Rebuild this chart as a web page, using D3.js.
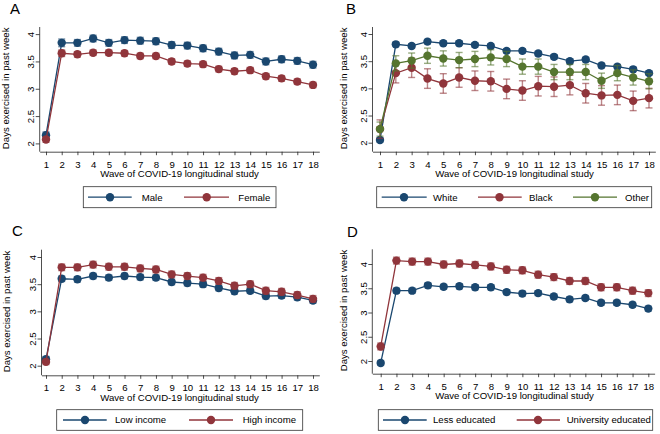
<!DOCTYPE html>
<html><head><meta charset="utf-8">
<script src="https://cdn.jsdelivr.net/npm/d3@7"></script>
<style>
body{margin:0;background:#fff}
svg{display:block}
text{font-family:"Liberation Sans",Arial,Helvetica,sans-serif;fill:#000}
</style>
</head><body>
<svg id="chart" width="660" height="434"></svg>
<script>
// ---------- data ----------
const waves = [1,2,3,4,5,6,7,8,9,10,11,12,13,14,15,16,17,18];
const yTicks = [2,2.5,3,3.5,4];
const yTickLabels = ["2","2.5","3","3.5","4"];
const xTitle = "Wave of COVID-19 longitudinal study";
const yTitle = "Days exercised in past week";

// Panel A: sex
const maleMean   = [2.15,3.84,3.84,3.92,3.84,3.89,3.88,3.87,3.80,3.79,3.74,3.68,3.61,3.62,3.50,3.54,3.51,3.44];
const maleCI     = [0.06,0.07,0.06,0.06,0.06,0.06,0.06,0.06,0.06,0.06,0.06,0.06,0.06,0.06,0.06,0.06,0.06,0.06];
const femaleMean = [2.07,3.65,3.63,3.66,3.66,3.65,3.60,3.60,3.50,3.46,3.45,3.36,3.32,3.34,3.23,3.19,3.13,3.07];
const femaleCI   = [0.05,0.06,0.05,0.05,0.05,0.05,0.05,0.05,0.05,0.05,0.05,0.05,0.05,0.05,0.05,0.05,0.05,0.05];

// Panel B: race
const whiteMean = [2.05,3.81,3.78,3.86,3.83,3.83,3.80,3.78,3.69,3.69,3.64,3.58,3.50,3.53,3.42,3.40,3.35,3.28];
const whiteCI   = [0.04,0.04,0.04,0.04,0.04,0.04,0.04,0.04,0.04,0.04,0.04,0.04,0.04,0.04,0.04,0.04,0.04,0.04];
const blackMean = [2.25,3.28,3.38,3.18,3.09,3.20,3.14,3.13,2.99,2.96,3.04,3.03,3.06,2.91,2.87,2.88,2.77,2.82];
const blackCI   = [0.17,0.18,0.18,0.18,0.18,0.18,0.18,0.18,0.18,0.18,0.18,0.18,0.18,0.18,0.18,0.18,0.18,0.18];
const otherMean = [2.25,3.46,3.51,3.60,3.55,3.52,3.54,3.57,3.54,3.40,3.40,3.30,3.30,3.30,3.14,3.28,3.20,3.13];
const otherCI   = [0.13,0.14,0.14,0.14,0.14,0.14,0.14,0.14,0.14,0.14,0.14,0.14,0.14,0.14,0.14,0.14,0.14,0.14];

// Panel C: income
const lowIncMean  = [2.12,3.60,3.59,3.65,3.62,3.65,3.63,3.62,3.54,3.52,3.50,3.43,3.37,3.38,3.28,3.29,3.26,3.20];
const lowIncCI    = [0.05,0.05,0.05,0.05,0.05,0.05,0.05,0.05,0.05,0.05,0.05,0.05,0.05,0.05,0.05,0.05,0.05,0.05];
const highIncMean = [2.07,3.81,3.81,3.86,3.82,3.82,3.79,3.77,3.68,3.65,3.62,3.56,3.47,3.50,3.38,3.36,3.30,3.23];
const highIncCI   = [0.05,0.06,0.06,0.06,0.06,0.06,0.06,0.06,0.06,0.06,0.06,0.06,0.06,0.06,0.06,0.06,0.06,0.06];

// Panel D: education
const lessEduMean = [1.96,3.45,3.45,3.56,3.53,3.54,3.52,3.52,3.42,3.39,3.40,3.33,3.27,3.30,3.20,3.20,3.16,3.08];
const lessEduCI   = [0.05,0.05,0.05,0.05,0.05,0.05,0.05,0.05,0.05,0.05,0.05,0.05,0.05,0.05,0.05,0.05,0.05,0.05];
const uniEduMean  = [2.30,4.07,4.05,4.05,3.99,4.01,3.98,3.95,3.88,3.87,3.78,3.73,3.65,3.65,3.52,3.52,3.45,3.40];
const uniEduCI    = [0.07,0.07,0.07,0.07,0.07,0.07,0.07,0.07,0.07,0.07,0.07,0.07,0.07,0.07,0.07,0.07,0.07,0.07];

// ---------- style ----------
const NAVY = "#1a476f", MAROON = "#90353b", GREEN = "#55752f";

const panels = [
  { label:"A", lab:[10,14],
    g:{ax:39.7, x1:46, x18:313, y2:143.4, y4:34.1, top:27, bot:151.7, ytx:8.5},
    series:[{name:"Male",mean:maleMean,ci:maleCI,color:NAVY},
            {name:"Female",mean:femaleMean,ci:femaleCI,color:MAROON}],
    legend:{box:[83.3,186.7,276,207.7], items:[[88,131.7,110,141.7],[184,229,206.7,238.3]]} },
  { label:"B", lab:[346,14],
    g:{ax:372.5, x1:380, x18:649, y2:142.7, y4:34, top:27, bot:151.7, ytx:346.7},
    series:[{name:"White",mean:whiteMean,ci:whiteCI,color:NAVY},
            {name:"Black",mean:blackMean,ci:blackCI,color:MAROON},
            {name:"Other",mean:otherMean,ci:otherCI,color:GREEN}],
    legend:{box:[376.7,186.7,651.7,207.7], items:[[381.7,426.7,404,433],[478,521.7,499.5,529],[573,617,595,625]]} },
  { label:"C", lab:[12,236],
    g:{ax:41.5, x1:46, x18:313, y2:365.7, y4:257, top:249.7, bot:375.3, ytx:10},
    series:[{name:"Low income",mean:lowIncMean,ci:lowIncCI,color:NAVY},
            {name:"High income",mean:highIncMean,ci:highIncCI,color:MAROON}],
    legend:{box:[56.7,409.7,302.7,430.3], items:[[63,106.7,85,115],[189,233,211,242.7]]} },
  { label:"D", lab:[347,237],
    g:{ax:372.3, x1:380.7, x18:648.3, y2:361, y4:264, top:249.3, bot:373.7, ytx:346.5},
    series:[{name:"Less educated",mean:lessEduMean,ci:lessEduCI,color:NAVY},
            {name:"University educated",mean:uniEduMean,ci:uniEduCI,color:MAROON}],
    legend:{box:[378.3,409.7,652.7,430.3], items:[[383,426.7,405,433],[516.7,560,538,566.7]]} }
];

const svg = d3.select("#chart");
const FS = 9.6;

panels.forEach(p => {
  const G = p.g;
  const g = svg.append("g");
  const per = (G.x18 - G.x1) / 17;
  const xlo = 1 - (G.x1 - G.ax) / per, xhi = 18.4;
  const x = d3.scaleLinear().domain([xlo, xhi]).range([G.ax, G.x18 + 0.4*per]);
  const y = d3.scaleLinear().domain([2, 4]).range([G.y2, G.y4]);

  // panel letter
  g.append("text").attr("x", p.lab[0]).attr("y", p.lab[1])
    .style("font-size","15px").text(p.label);

  // y axis
  const yAx = g.append("g").attr("transform", `translate(${G.ax},0)`)
    .call(d3.axisLeft(y).tickValues(yTicks).tickFormat((d,i)=>yTickLabels[i]).tickSize(4).tickSizeOuter(0));
  yAx.select(".domain").remove();
  yAx.selectAll(".tick line").attr("stroke","#222").attr("stroke-width",0.8);
  yAx.selectAll(".tick text")
    .attr("transform","rotate(-90)").attr("x",0).attr("y",-5.5).attr("dy",null)
    .attr("text-anchor","middle").style("font-size",FS+"px").style("font-family",null).attr("fill","#000");
  g.append("line").attr("x1",G.ax).attr("x2",G.ax).attr("y1",G.top).attr("y2",G.bot)
    .attr("stroke","#222").attr("stroke-width",0.8);

  // x axis
  const xAx = g.append("g").attr("transform", `translate(0,${G.bot})`)
    .call(d3.axisBottom(x).tickValues(waves).tickFormat(d3.format("d")).tickSize(3.5).tickSizeOuter(0).tickPadding(5.5));
  xAx.select(".domain").attr("stroke","#222").attr("stroke-width",0.8);
  xAx.selectAll(".tick line").attr("stroke","#222").attr("stroke-width",0.8);
  xAx.selectAll(".tick text").style("font-size",FS+"px").style("font-family",null).attr("fill","#000");

  // titles
  g.append("text").attr("x",(G.x1+G.x18)/2).attr("y",G.bot+25.5)
    .attr("text-anchor","middle").style("font-size",FS+"px").text(xTitle);
  g.append("text")
    .attr("transform",`translate(${G.ytx},${(G.top+G.bot)/2 - 1}) rotate(-90)`)
    .attr("text-anchor","middle").style("font-size",FS+"px").text(yTitle);

  // series
  p.series.forEach(s => {
    const pts = waves.map((w,i)=>({w, m:s.mean[i], c:s.ci[i]}));
    const sg = g.append("g");
    // CI caps
    const eb = sg.append("g").attr("stroke", s.color).attr("stroke-opacity",0.6).attr("stroke-width",1.4).attr("fill","none");
    pts.forEach(d => {
      const cx = x(d.w), yl = y(d.m - d.c), yh = y(d.m + d.c);
      eb.append("line").attr("x1",cx).attr("x2",cx).attr("y1",yl).attr("y2",yh);
      eb.append("line").attr("x1",cx-3.5).attr("x2",cx+3.5).attr("y1",yl).attr("y2",yl);
      eb.append("line").attr("x1",cx-3.5).attr("x2",cx+3.5).attr("y1",yh).attr("y2",yh);
    });
    sg.append("path").datum(pts)
      .attr("d", d3.line().x(d=>x(d.w)).y(d=>y(d.m)))
      .attr("fill","none").attr("stroke",s.color).attr("stroke-width",1.3);
    sg.selectAll("circle").data(pts).join("circle")
      .attr("cx",d=>x(d.w)).attr("cy",d=>y(d.m)).attr("r",4.2).attr("fill",s.color);
  });

  // legend
  const L = p.legend;
  const lg = g.append("g");
  lg.append("rect").attr("x",L.box[0]).attr("y",L.box[1])
    .attr("width",L.box[2]-L.box[0]).attr("height",L.box[3]-L.box[1])
    .attr("fill","#fff").attr("stroke","#333").attr("stroke-width",0.8);
  const cy = (L.box[1]+L.box[3])/2;
  p.series.forEach((s,i) => {
    const it = L.items[i];
    lg.append("line").attr("x1",it[0]).attr("x2",it[1]).attr("y1",cy).attr("y2",cy)
      .attr("stroke",s.color).attr("stroke-width",1.3);
    lg.append("circle").attr("cx",it[2]).attr("cy",cy).attr("r",4.2).attr("fill",s.color);
    lg.append("text").attr("x",it[3]).attr("y",cy+3.4).style("font-size",FS+"px").text(s.name);
  });
});
</script>
</body></html>
